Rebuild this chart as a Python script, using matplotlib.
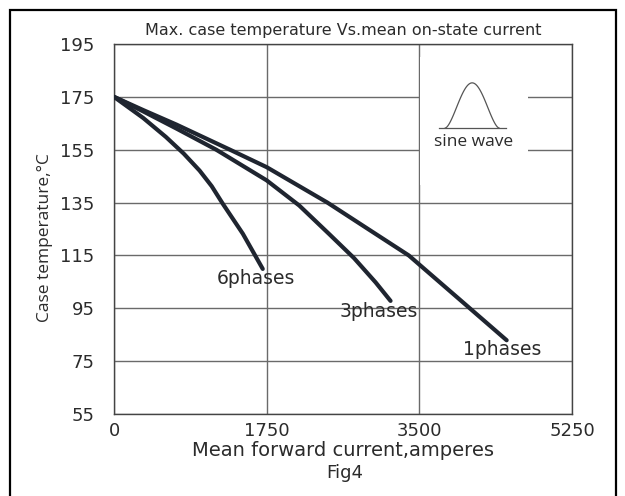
import numpy as np
import matplotlib
matplotlib.use("Agg")
import matplotlib.pyplot as plt
from matplotlib.patches import Rectangle

# curves (current A, case temperature C)
one_phase_x = [0, 335, 716, 1330, 1750, 2446, 2884, 3379, 4026, 4501]
one_phase_y = [175, 170, 164.5, 155, 148.4, 135, 125.6, 115, 96.5, 82.9]

three_phase_x = [0, 335, 716, 1172, 1750, 2123, 2466, 2751, 2999, 3170]
three_phase_y = [175, 169.5, 163, 155, 143.4, 133.9, 123.1, 114, 104.8, 97.8]

six_phase_x = [0, 335, 596, 800, 981, 1120, 1246, 1477, 1705]
six_phase_y = [175, 167, 159.8, 153.5, 147.1, 141.2, 134.6, 123.2, 109.9]

curve_names = ["1phases", "3phases", "6phases"]
label_pos = [(4452, 79.3), (3037, 93.8), (1629, 106.3)]

x_ticks = [0, 1750, 3500, 5250]
y_ticks = [55, 75, 95, 115, 135, 155, 175, 195]

W, H = 625, 496
fig = plt.figure(figsize=(W / 100, H / 100), dpi=100)
ax = fig.add_axes([114 / W, 1 - 414 / H, (572 - 114) / W, (414 - 44) / H])

line_col = "#1f2530"
text_col = "#2b2b2b"
grid_col = "#6a6a6a"

ax.set_xlim(0, 5250)
ax.set_ylim(55, 195)
ax.set_xticks(x_ticks)
ax.set_yticks(y_ticks)
ax.grid(True, color=grid_col, linewidth=1.0)
ax.set_axisbelow(True)
ax.tick_params(length=0, labelsize=13, labelcolor=text_col)
ax.tick_params(axis="y", pad=14)
ax.tick_params(axis="x", pad=6)
for s in ax.spines.values():
    s.set_color("#444444")
    s.set_linewidth(1.0)

# white box holding the sine wave sketch
ax.add_patch(Rectangle((3510, 141.5), 1230, 48.5, facecolor="white",
                       edgecolor="none", zorder=1.5))
t = np.linspace(0, np.pi, 60)
ax.plot(3797 + (4414 - 3797) * t / np.pi, 163.2 + 17.1 * np.sin(t) ** 1.6,
        color="#555555", lw=0.9, zorder=2)
ax.plot([3721, 4498], [163.2, 163.2], color="#555555", lw=0.9, zorder=2)
ax.text(4121, 157.9, "sine wave", ha="center", va="center", fontsize=12.5,
        family="Open Sans", color=text_col, zorder=2)

for xs, ys in [(one_phase_x, one_phase_y), (three_phase_x, three_phase_y),
               (six_phase_x, six_phase_y)]:
    ax.plot(xs, ys, color=line_col, lw=3.0, solid_capstyle="round",
            solid_joinstyle="round", zorder=3)

for name, (lx, ly) in zip(curve_names, label_pos):
    ax.text(lx, ly, name, ha="center", va="center", fontsize=13.5,
            color=text_col, zorder=4)

fig.text(343 / W, 1 - 30 / H, "Max. case temperature Vs.mean on-state current",
         ha="center", va="center", fontsize=11.5, color=text_col)
fig.text(343 / W, 1 - 451 / H, "Mean forward current,amperes",
         ha="center", va="center", fontsize=14, color=text_col)
fig.text(345 / W, 1 - 473 / H, "Fig4", ha="center", va="center",
         fontsize=13, color=text_col)
fig.text(45 / W, 1 - 238 / H, "Case temperature,°C", ha="center", va="center",
         rotation=90, fontsize=12.5, family="Open Sans", color=text_col)

# outer frame
fig.patches.append(Rectangle((10 / W, -0.05), 606 / W, 1.05 - 10 / H,
                             transform=fig.transFigure, fill=False,
                             edgecolor="black", linewidth=1.6))

fig.savefig("out.png", dpi=100)
